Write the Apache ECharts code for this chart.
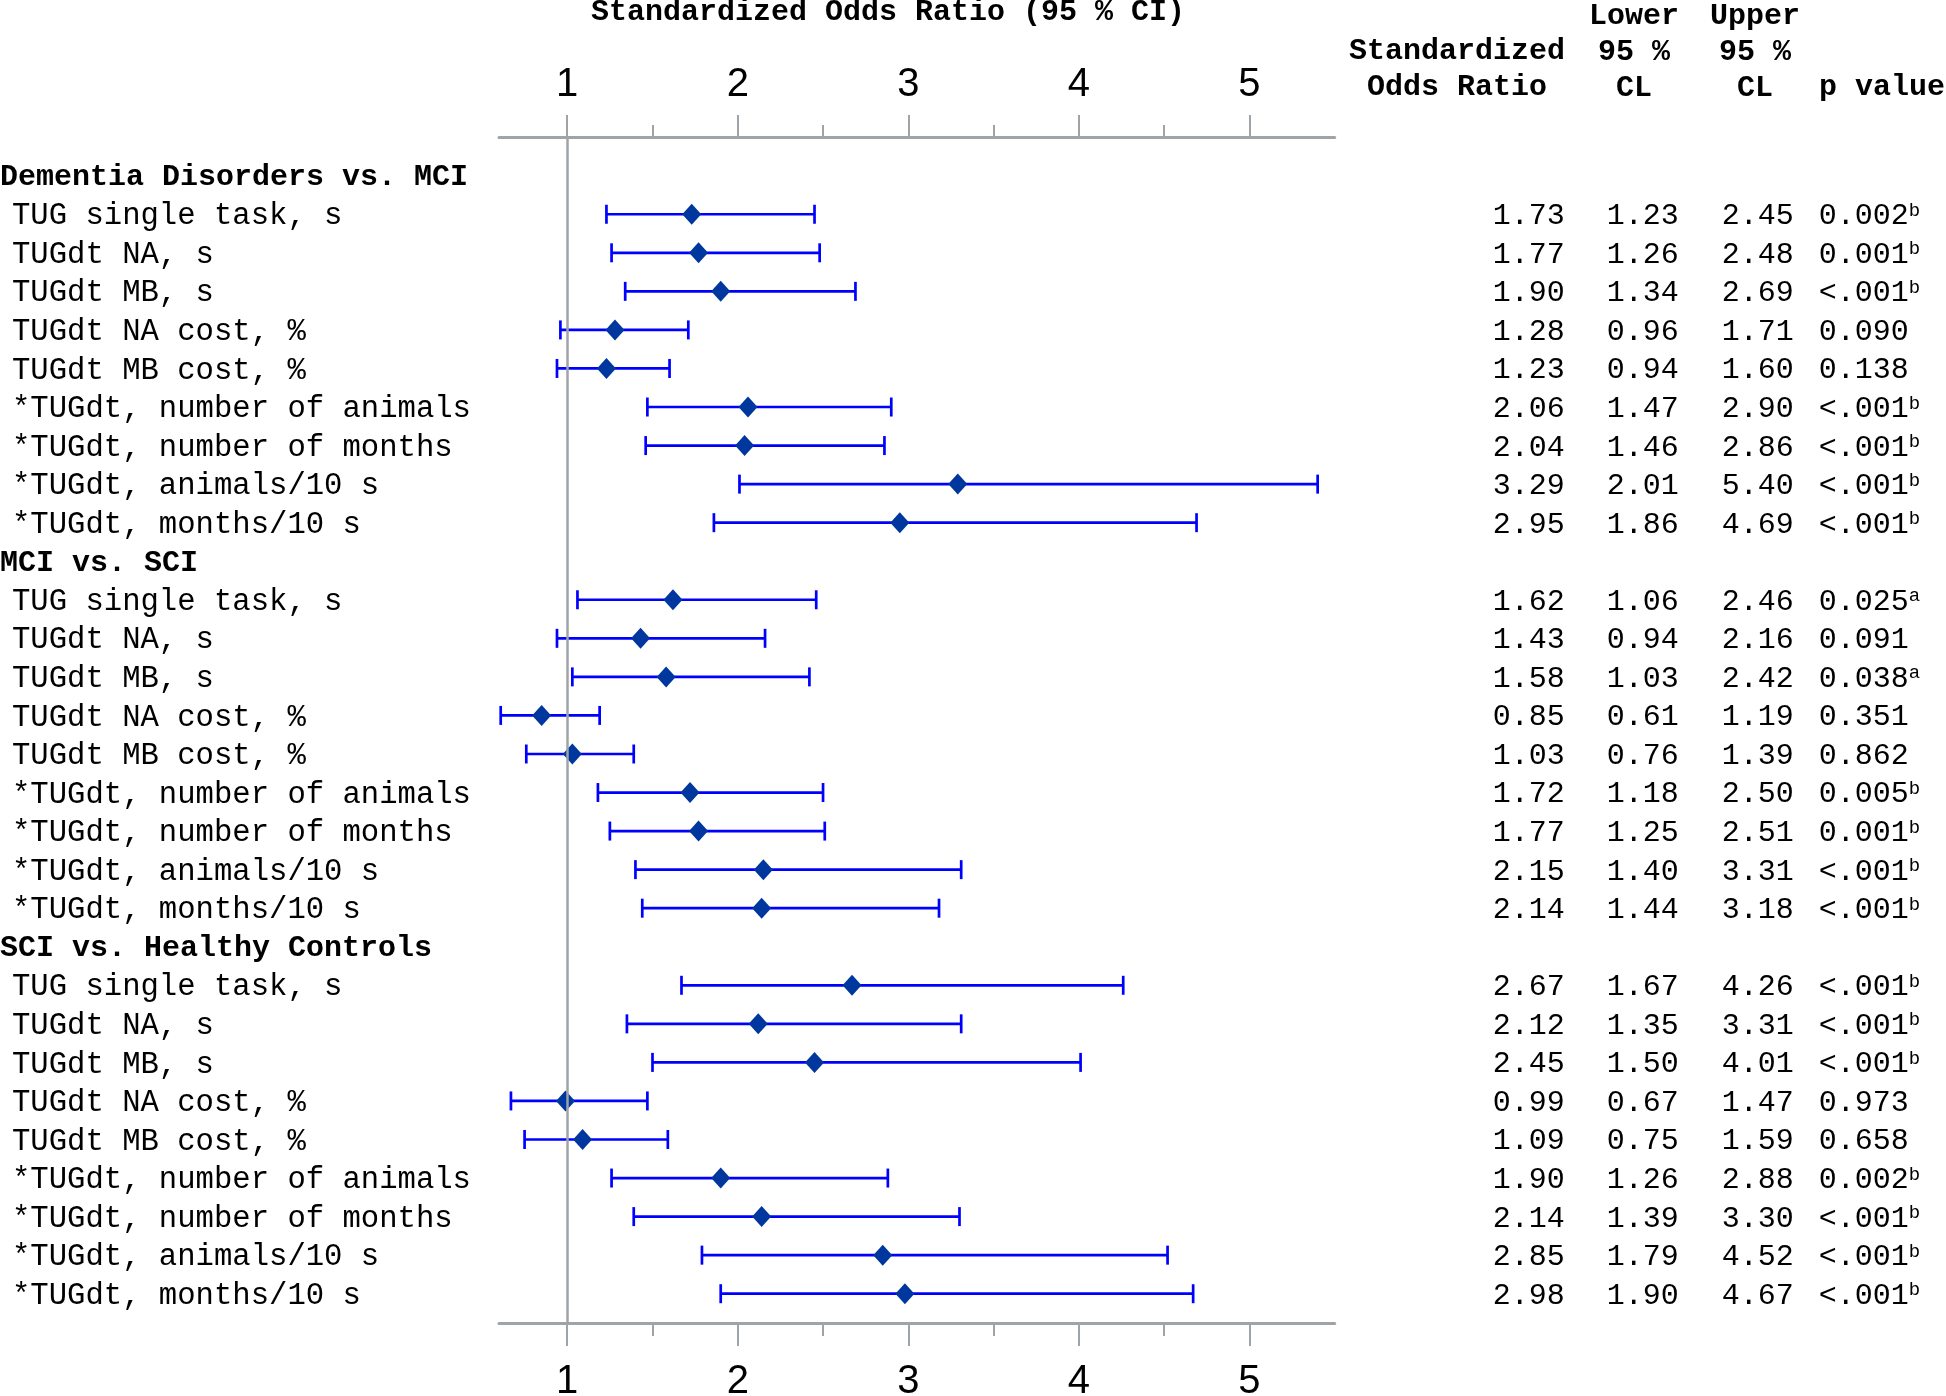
<!DOCTYPE html>
<html>
<head>
<meta charset="utf-8" />
<title>Standardized Odds Ratio (95 % CI)</title>
<script src="https://cdn.jsdelivr.net/npm/echarts@6/dist/echarts.min.js"></script>
<style>
html, body { margin: 0; padding: 0; background: #fff; }
#main { width: 1946px; height: 1396px; }
</style>
</head>
<body>
<div id="main"></div>
<script>
// comparison groups and the measures inside each group
var groups = ['Dementia Disorders vs. MCI', 'MCI vs. SCI', 'SCI vs. Healthy Controls'];
var measures = ['TUG single task, s', 'TUGdt NA, s', 'TUGdt MB, s', 'TUGdt NA cost, %', 'TUGdt MB cost, %',
    '*TUGdt, number of animals', '*TUGdt, number of months', '*TUGdt, animals/10 s', '*TUGdt, months/10 s'];

// 27 rows, group after group
var oddsRatio = [1.73, 1.77, 1.90, 1.28, 1.23, 2.06, 2.04, 3.29, 2.95,
                 1.62, 1.43, 1.58, 0.85, 1.03, 1.72, 1.77, 2.15, 2.14,
                 2.67, 2.12, 2.45, 0.99, 1.09, 1.90, 2.14, 2.85, 2.98];
var lowerCL = [1.23, 1.26, 1.34, 0.96, 0.94, 1.47, 1.46, 2.01, 1.86,
               1.06, 0.94, 1.03, 0.61, 0.76, 1.18, 1.25, 1.40, 1.44,
               1.67, 1.35, 1.50, 0.67, 0.75, 1.26, 1.39, 1.79, 1.90];
var upperCL = [2.45, 2.48, 2.69, 1.71, 1.60, 2.90, 2.86, 5.40, 4.69,
               2.46, 2.16, 2.42, 1.19, 1.39, 2.50, 2.51, 3.31, 3.18,
               4.26, 3.31, 4.01, 1.47, 1.59, 2.88, 3.30, 4.52, 4.67];
var pValue = ['0.002', '0.001', '<.001', '0.090', '0.138', '<.001', '<.001', '<.001', '<.001',
              '0.025', '0.091', '0.038', '0.351', '0.862', '0.005', '0.001', '<.001', '<.001',
              '<.001', '<.001', '<.001', '0.973', '0.658', '0.002', '<.001', '<.001', '<.001'];
var pNote = ['b', 'b', 'b', '', '', 'b', 'b', 'b', 'b',
             'a', '', 'a', '', '', 'b', 'b', 'b', 'b',
             'b', 'b', 'b', '', '', 'b', 'b', 'b', 'b'];

var majorTicks = [1, 2, 3, 4, 5];
var minorTicks = [1.5, 2.5, 3.5, 4.5];

// build the row list: a header row then its measures
var rowLabels = [];
var headerRows = [];
var dataRows = [];
var rowText = {}; // row index -> index into the value arrays
groups.forEach(function (g, gi) {
    headerRows.push(rowLabels.length);
    rowLabels.push(g);
    measures.forEach(function (m, mi) {
        rowText[rowLabels.length] = gi * measures.length + mi;
        dataRows.push(rowLabels.length);
        rowLabels.push(m);
    });
});

var ciData = [];
var orData = [];
dataRows.forEach(function (r) {
    var k = rowText[r];
    ciData.push([lowerCL[k], upperCL[k], r]);
    orData.push([oddsRatio[k], r]);
});

var mono = "'Liberation Mono', 'Courier New', 'DejaVu Sans Mono', monospace";
var axisGray = '#9fa4a9';

var myChart = echarts.init(document.getElementById('main'));

function topBottomAxis(pos, major, margin, len) {
    return {
        type: 'value',
        position: pos,
        min: 0.6,
        max: 5.5,
        axisLine: { show: major, onZero: false, lineStyle: { color: axisGray, width: 3 } },
        axisTick: {
            show: true,
            customValues: major ? majorTicks : minorTicks,
            length: len,
            lineStyle: { color: axisGray, width: 2 }
        },
        axisLabel: {
            show: major,
            customValues: majorTicks,
            margin: margin,
            fontFamily: "'Liberation Sans', Arial, sans-serif",
            fontSize: 40,
            color: '#000'
        },
        splitLine: { show: false }
    };
}

function tableAxis(margin, align, fmt) {
    return {
        type: 'value',
        position: 'right',
        inverse: true,
        min: -1.004,
        max: 29.76,
        axisLine: { show: false, onZero: false },
        axisTick: { show: false },
        splitLine: { show: false },
        axisLabel: {
            customValues: dataRows,
            margin: margin,
            align: align,
            padding: [4, 0, 0, 0],
            fontFamily: mono,
            fontSize: 30,
            color: '#000',
            formatter: fmt,
            rich: {
                s: { fontFamily: mono, fontSize: 19, color: '#000', verticalAlign: 'top', padding: [0, 0, 10, 0] }
            }
        }
    };
}

var option = {
    animation: false,
    backgroundColor: '#fff',
    title: [
        {
            text: 'Standardized Odds Ratio (95 % CI)',
            left: 888, top: -3, padding: 0, textAlign: 'center',
            textStyle: { fontFamily: mono, fontWeight: 'bold', fontSize: 30, color: '#000' }
        },
        {
            text: 'Standardized\nOdds Ratio',
            left: 1457, top: 33, padding: 0, textAlign: 'center',
            textStyle: { fontFamily: mono, fontWeight: 'bold', fontSize: 30, lineHeight: 36, color: '#000' }
        },
        {
            text: 'Lower\n95 %\nCL',
            left: 1634, top: -2, padding: 0, textAlign: 'center',
            textStyle: { fontFamily: mono, fontWeight: 'bold', fontSize: 30, lineHeight: 36, color: '#000' }
        },
        {
            text: 'Upper\n95 %\nCL',
            left: 1755, top: -2, padding: 0, textAlign: 'center',
            textStyle: { fontFamily: mono, fontWeight: 'bold', fontSize: 30, lineHeight: 36, color: '#000' }
        },
        {
            text: 'p value',
            left: 1882, top: 69, padding: 0, textAlign: 'center',
            textStyle: { fontFamily: mono, fontWeight: 'bold', fontSize: 30, lineHeight: 36, color: '#000' }
        }
    ],
    grid: {
        left: 499,
        right: 611.3,
        top: 137,
        bottom: 73,
        containLabel: false,
        outerBoundsMode: 'none'
    },
    xAxis: [
        topBottomAxis('top', true, 32, 22),
        topBottomAxis('top', false, 32, 12),
        topBottomAxis('bottom', true, 39, 23),
        topBottomAxis('bottom', false, 39, 13)
    ],
    yAxis: [
        {
            type: 'value',
            position: 'left',
            inverse: true,
            min: -1.004,
            max: 29.76,
            axisLine: { show: false, onZero: false },
            axisTick: { show: false },
            splitLine: { show: false },
            axisLabel: {
                customValues: rowLabels.map(function (l, i) { return i; }),
                margin: 499,
                align: 'left',
                formatter: function (v) {
                    var i = Math.round(v);
                    if (headerRows.indexOf(i) >= 0) return '{h|' + rowLabels[i] + '}';
                    return '{n|' + rowLabels[i] + '}';
                },
                rich: {
                    h: { fontFamily: mono, fontWeight: 'bold', fontSize: 30, color: '#000', padding: [4, 0, 0, 0] },
                    n: { fontFamily: mono, fontSize: 30.6, color: '#000', padding: [4, 0, 0, 12] }
                }
            }
        },
        tableAxis(230, 'right', function (v) { return oddsRatio[rowText[Math.round(v)]].toFixed(2); }),
        tableAxis(344, 'right', function (v) { return lowerCL[rowText[Math.round(v)]].toFixed(2); }),
        tableAxis(459, 'right', function (v) { return upperCL[rowText[Math.round(v)]].toFixed(2); }),
        tableAxis(484, 'left', function (v) {
            var k = rowText[Math.round(v)];
            return pValue[k] + (pNote[k] ? '{s|' + pNote[k] + '}' : '');
        })
    ],
    series: [
        {
            name: 'CI',
            type: 'custom',
            xAxisIndex: 0,
            yAxisIndex: 0,
            z: 2,
            encode: { x: [0, 1], y: 2 },
            data: ciData,
            renderItem: function (params, api) {
                var r = api.value(2);
                var a = api.coord([api.value(0), r]);
                var b = api.coord([api.value(1), r]);
                var h = 9.5;
                var st = { stroke: '#0000ff', lineWidth: 2.7 };
                return {
                    type: 'group',
                    children: [
                        { type: 'line', shape: { x1: a[0], y1: a[1], x2: b[0], y2: b[1] }, style: st },
                        { type: 'line', shape: { x1: a[0], y1: a[1] - h, x2: a[0], y2: a[1] + h }, style: st },
                        { type: 'line', shape: { x1: b[0], y1: b[1] - h, x2: b[0], y2: b[1] + h }, style: st }
                    ]
                };
            }
        },
        {
            name: 'ref',
            type: 'line',
            xAxisIndex: 0,
            yAxisIndex: 0,
            z: 3,
            data: [],
            markLine: {
                silent: true,
                symbol: 'none',
                label: { show: false },
                lineStyle: { color: axisGray, width: 2.5, type: 'solid' },
                data: [{ xAxis: 1 }]
            }
        },
        {
            name: 'Standardized Odds Ratio',
            type: 'scatter',
            xAxisIndex: 0,
            yAxisIndex: 0,
            z: 4,
            symbol: 'diamond',
            symbolSize: [19, 21],
            itemStyle: { color: '#00379e', opacity: 1 },
            data: orData
        }
    ]
};

myChart.setOption(option);
</script>
</body>
</html>
